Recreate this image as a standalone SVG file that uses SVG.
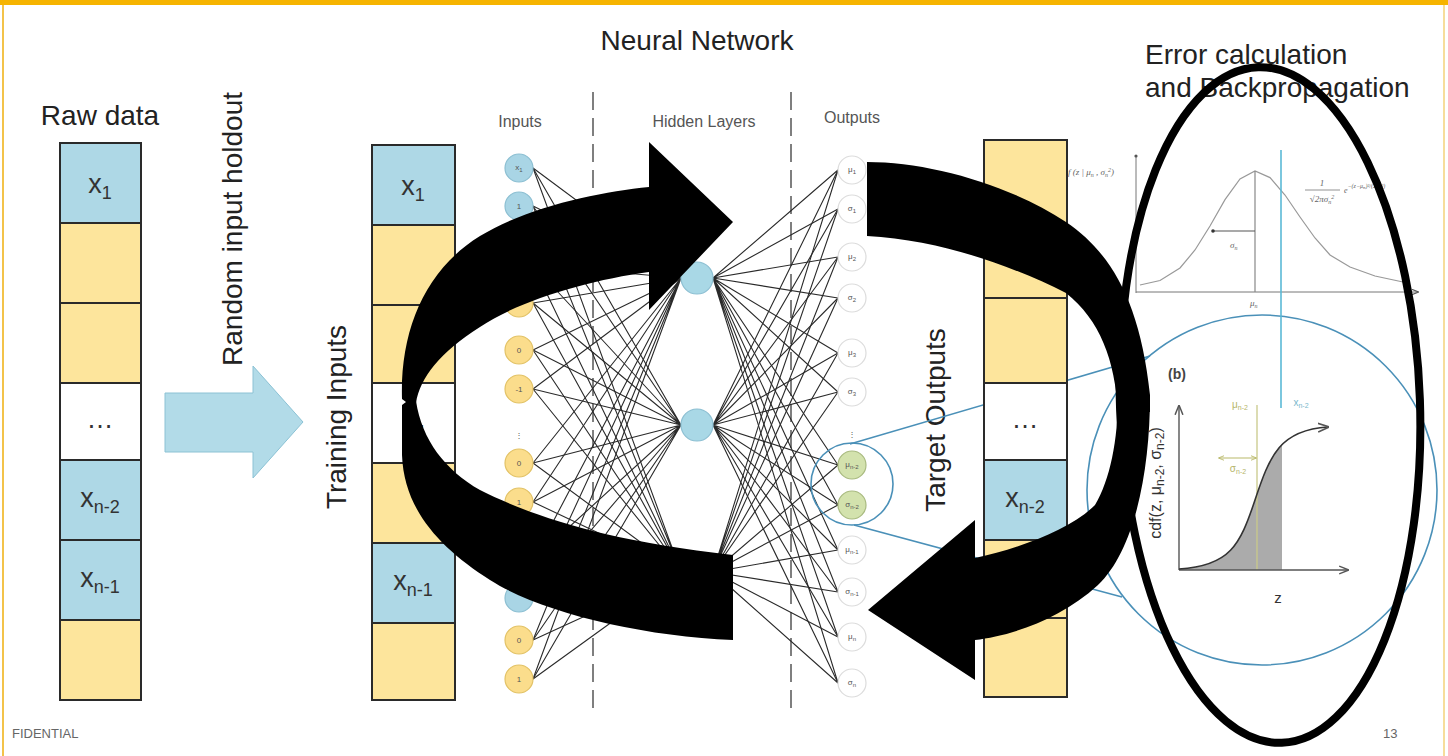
<svg xmlns="http://www.w3.org/2000/svg" width="1448" height="756" viewBox="0 0 1448 756">
<defs>
<style>
.cell{stroke:#2a2a2a;stroke-width:2}
.b{fill:#aed8e6}.y{fill:#fde59c}.w{fill:#fff}
.cl{font-family:"Liberation Sans",Arial,sans-serif;font-size:27px;fill:#333;text-anchor:middle}
.sub{font-size:18px}
.big{font-family:"Liberation Sans",Arial,sans-serif;font-size:28px;fill:#222}
.hdr{font-family:"Liberation Sans",Arial,sans-serif;font-size:16px;fill:#555;text-anchor:middle}
.nb{fill:#a9d5e5;stroke:#8cbfd2;stroke-width:1.2}
.ny{fill:#fbdd8c;stroke:#e2c266;stroke-width:1.2}
.no{fill:#fff;stroke:#dcdcdc;stroke-width:1.2}
.ng{fill:#d3e2ad;stroke:#a9ba80;stroke-width:1.2}
.nh{fill:#a9d8e6;stroke:#8cbfd2;stroke-width:1.2}
.nl{font-family:"Liberation Sans",Arial,sans-serif;font-size:8px;fill:#555;text-anchor:middle}
.ns{font-size:6px}
.conn{stroke:#2a2a2a;stroke-width:1.1;fill:none}
.dash{stroke:#555;stroke-width:1.5;stroke-dasharray:18 8}
.teal{stroke:#4a90b8;stroke-width:1.6;fill:none}
.ax{stroke:#777;stroke-width:1;fill:none}
.sm{font-family:"Liberation Serif",serif;font-style:italic;fill:#666}
.ol{stroke:#c9c98a;stroke-width:1.3;fill:none}
</style>
<marker id="ah" viewBox="0 0 10 10" refX="9" refY="5" markerWidth="7" markerHeight="7" orient="auto"><path d="M0,1 L10,5 L0,9" fill="none" stroke="#555" stroke-width="1.5"/></marker>
<marker id="ao" viewBox="0 0 10 10" refX="9" refY="5" markerWidth="5" markerHeight="5" orient="auto-start-reverse"><path d="M0,1 L10,5 L0,9" fill="none" stroke="#b9b96a" stroke-width="1.5"/></marker>
<clipPath id="shade"><rect x="1179" y="380" width="103" height="190"/></clipPath>
</defs>
<rect width="1448" height="756" fill="#fff"/>
<rect x="0" y="0" width="1448" height="5" fill="#f6b400"/>
<line x1="3" y1="5" x2="3" y2="756" stroke="#f3c34a" stroke-width="2"/>
<line x1="1444" y1="5" x2="1444" y2="756" stroke="#f3d27a" stroke-width="1.5"/>

<!-- titles -->
<text class="big" x="697" y="50" text-anchor="middle">Neural Network</text>
<text class="big" x="100" y="125" text-anchor="middle">Raw data</text>
<text class="big" x="1145" y="64">Error calculation</text>
<text class="big" x="1145" y="97">and Backpropagation</text>
<text class="big" font-size="32.5" transform="translate(242,229) rotate(-90)" text-anchor="middle">Random input holdout</text>
<text class="big" font-size="34" transform="translate(346,417) rotate(-90)" text-anchor="middle">Training Inputs</text>
<text class="big" font-size="33" transform="translate(945,420) rotate(-90)" text-anchor="middle">Target Outputs</text>
<text class="hdr" x="520" y="127">Inputs</text>
<text class="hdr" x="704" y="127">Hidden Layers</text>
<text class="hdr" x="852" y="123">Outputs</text>

<!-- raw data column -->
<g id="raw-data">
<rect class="cell b" x="60" y="143" width="81" height="80"/>
<rect class="cell y" x="60" y="223" width="81" height="80"/>
<rect class="cell y" x="60" y="303" width="81" height="80"/>
<rect class="cell w" x="60" y="383" width="81" height="77"/>
<rect class="cell b" x="60" y="460" width="81" height="80"/>
<rect class="cell b" x="60" y="540" width="81" height="80"/>
<rect class="cell y" x="60" y="620" width="81" height="80"/>
<text class="cl" x="100" y="193">x<tspan class="sub" dy="6">1</tspan></text>
<text class="cl" x="100" y="428">…</text>
<text class="cl" x="100" y="507">x<tspan class="sub" dy="6">n-2</tspan></text>
<text class="cl" x="100" y="587">x<tspan class="sub" dy="6">n-1</tspan></text>
</g>

<g id="holdout-arrow">
<path d="M165,393 L253,393 L253,366 L303,422 L253,478 L253,452 L165,452 Z" fill="#b2dbe8" stroke="#8cc2d4" stroke-width="1"/>
</g>

<!-- training inputs column -->
<g id="training-inputs">
<rect class="cell b" x="372" y="145" width="83" height="80"/>
<rect class="cell y" x="372" y="225" width="83" height="80"/>
<rect class="cell y" x="372" y="305" width="83" height="78"/>
<rect class="cell w" x="372" y="383" width="83" height="80"/>
<rect class="cell y" x="372" y="463" width="83" height="80"/>
<rect class="cell b" x="372" y="543" width="83" height="80"/>
<rect class="cell y" x="372" y="623" width="83" height="77"/>
<text class="cl" x="413" y="195">x<tspan class="sub" dy="6">1</tspan></text>
<text class="cl" x="413" y="428">…</text>
<text class="cl" x="413" y="590">x<tspan class="sub" dy="6">n-1</tspan></text>
</g>

<!-- dashed separators -->
<line class="dash" x1="593" y1="92" x2="593" y2="712"/>
<line class="dash" x1="791" y1="92" x2="791" y2="712"/>

<!-- connectors -->
<g id="connectors">
<path class="conn" d="M533,168L681,278M533,206L681,278M533,265L681,278M533,303L681,278M533,350L681,278M533,389L681,278M533,463L681,278M533,502L681,278M533,560L681,278M533,598L681,278M533,640L681,278M533,679L681,278"/>
<path class="conn" d="M533,168L681,425M533,206L681,425M533,265L681,425M533,303L681,425M533,350L681,425M533,389L681,425M533,463L681,425M533,502L681,425M533,560L681,425M533,598L681,425M533,640L681,425M533,679L681,425"/>
<path class="conn" d="M533,168L681,572M533,206L681,572M533,265L681,572M533,303L681,572M533,350L681,572M533,389L681,572M533,463L681,572M533,502L681,572M533,560L681,572M533,598L681,572M533,640L681,572M533,679L681,572"/>
<path class="conn" d="M713,278L838,170M713,278L838,209M713,278L838,257M713,278L838,298M713,278L838,353M713,278L838,392M713,278L838,465M713,278L838,505M713,278L838,550M713,278L838,592M713,278L838,637M713,278L838,683"/>
<path class="conn" d="M713,425L838,170M713,425L838,209M713,425L838,257M713,425L838,298M713,425L838,353M713,425L838,392M713,425L838,465M713,425L838,505M713,425L838,550M713,425L838,592M713,425L838,637M713,425L838,683"/>
<path class="conn" d="M713,572L838,170M713,572L838,209M713,572L838,257M713,572L838,298M713,572L838,353M713,572L838,392M713,572L838,465M713,572L838,505M713,572L838,550M713,572L838,592M713,572L838,637M713,572L838,683"/>
<path class="teal" d="M850,444 L1150,356"/>
<path class="teal" d="M854,525 L1122,597"/>
</g>

<!-- input nodes -->
<g id="input-nodes">
<circle class="nb" cx="519" cy="168" r="14"/><text class="nl" x="519" y="170">x<tspan class="ns" dy="2">1</tspan></text>
<circle class="nb" cx="519" cy="206" r="14"/><text class="nl" x="519" y="209">1</text>
<circle class="ny" cx="519" cy="265" r="14"/>
<circle class="ny" cx="519" cy="303" r="14"/>
<circle class="ny" cx="519" cy="350" r="14"/><text class="nl" x="519" y="353">0</text>
<circle class="ny" cx="519" cy="389" r="14"/><text class="nl" x="519" y="392">-1</text>
<text class="nl" x="519" y="438" font-size="14" font-family="DejaVu Sans">⋮</text>
<circle class="ny" cx="519" cy="463" r="14"/><text class="nl" x="519" y="466">0</text>
<circle class="ny" cx="519" cy="502" r="14"/><text class="nl" x="519" y="505">1</text>
<circle class="nb" cx="519" cy="560" r="14"/>
<circle class="nb" cx="519" cy="598" r="14"/>
<circle class="ny" cx="519" cy="640" r="14"/><text class="nl" x="519" y="643">0</text>
<circle class="ny" cx="519" cy="679" r="14"/><text class="nl" x="519" y="682">1</text>
</g>

<!-- hidden nodes -->
<g id="hidden-nodes">
<circle class="nh" cx="697" cy="278" r="16"/>
<circle class="nh" cx="697" cy="425" r="16"/>
<circle class="nh" cx="697" cy="572" r="16"/>
</g>

<!-- output nodes -->
<g id="output-nodes">
<circle class="no" cx="852" cy="170" r="14"/><text class="nl" x="852" y="172">μ<tspan class="ns" dy="2">1</tspan></text>
<circle class="no" cx="852" cy="209" r="14"/><text class="nl" x="852" y="211">σ<tspan class="ns" dy="2">1</tspan></text>
<circle class="no" cx="852" cy="257" r="14"/><text class="nl" x="852" y="259">μ<tspan class="ns" dy="2">2</tspan></text>
<circle class="no" cx="852" cy="298" r="14"/><text class="nl" x="852" y="300">σ<tspan class="ns" dy="2">2</tspan></text>
<circle class="no" cx="852" cy="353" r="14"/><text class="nl" x="852" y="355">μ<tspan class="ns" dy="2">3</tspan></text>
<circle class="no" cx="852" cy="392" r="14"/><text class="nl" x="852" y="394">σ<tspan class="ns" dy="2">3</tspan></text>
<text class="nl" x="852" y="437" font-size="14" font-family="DejaVu Sans">⋮</text>
<circle class="ng" cx="852" cy="465" r="14"/><text class="nl" x="852" y="467">μ<tspan class="ns" dy="2">n-2</tspan></text>
<circle class="ng" cx="852" cy="505" r="14"/><text class="nl" x="852" y="507">σ<tspan class="ns" dy="2">n-2</tspan></text>
<circle class="no" cx="852" cy="550" r="14"/><text class="nl" x="852" y="552">μ<tspan class="ns" dy="2">n-1</tspan></text>
<circle class="no" cx="852" cy="592" r="14"/><text class="nl" x="852" y="594">σ<tspan class="ns" dy="2">n-1</tspan></text>
<circle class="no" cx="852" cy="637" r="14"/><text class="nl" x="852" y="639">μ<tspan class="ns" dy="2">n</tspan></text>
<circle class="no" cx="852" cy="683" r="14"/><text class="nl" x="852" y="685">σ<tspan class="ns" dy="2">n</tspan></text>
<circle class="teal" cx="852" cy="484" r="41"/>
</g>

<!-- big zoom circle -->
<circle class="teal" cx="1262" cy="490" r="175"/>

<!-- target outputs column -->
<g id="target-outputs">
<rect class="cell y" x="984" y="140" width="83" height="158"/>
<rect class="cell y" x="984" y="298" width="83" height="85"/>
<rect class="cell w" x="984" y="383" width="83" height="77"/>
<rect class="cell b" x="984" y="460" width="83" height="80"/>
<rect class="cell y" x="984" y="540" width="83" height="78"/>
<rect class="cell y" x="984" y="618" width="83" height="79"/>
<text class="cl" x="1025" y="428">…</text>
<text class="cl" x="1025" y="507">x<tspan class="sub" dy="6">n-2</tspan></text>
</g>

<!-- gaussian plot -->
<g id="pdf-plot">
<line class="ax" x1="1136" y1="293" x2="1136" y2="157"/>
<circle cx="1136" cy="156" r="1.6" fill="#555"/>
<line class="ax" x1="1136" y1="292" x2="1418" y2="292" marker-end="url(#ah)"/>
<path d="M1140,285 L1160,280.5 L1180,268 L1195,250 L1210,226 L1225,199.7 L1240,178.9 L1255,171 L1270,177.6 L1285,195 L1300,217 L1315,238 L1330,255 L1350,267 L1375,276 L1403,282" fill="none" stroke="#999" stroke-width="1.2"/>
<line x1="1255" y1="171" x2="1255" y2="292" stroke="#888" stroke-width="1.2"/>
<line x1="1213" y1="231" x2="1255" y2="231" stroke="#555" stroke-width="1.2"/>
<circle cx="1213" cy="231" r="1.8" fill="#333"/>
<text class="sm" x="1230" y="248" font-size="9">σ<tspan font-size="6" dy="2">n</tspan></text>
<text class="sm" x="1250" y="306" font-size="9">μ<tspan font-size="6" dy="2">n</tspan></text>
<text class="sm" x="1068" y="175" font-size="9">f (z | μ<tspan font-size="6" dy="2">n</tspan><tspan dy="-2"> , σ</tspan><tspan font-size="6" dy="2">n</tspan><tspan font-size="6" dy="-5">2</tspan><tspan dy="3">)</tspan></text>
<text class="sm" x="1322" y="186" font-size="9" text-anchor="middle">1</text>
<line x1="1305" y1="190" x2="1340" y2="190" stroke="#777" stroke-width="0.8"/>
<text class="sm" x="1322" y="202" font-size="9" text-anchor="middle">√2πσ<tspan font-size="6" dy="2">n</tspan><tspan font-size="6" dy="-5">2</tspan></text>
<text class="sm" x="1344" y="193" font-size="8">e<tspan font-size="6" dy="-5">−(z−μ</tspan><tspan font-size="5" dy="1">n</tspan><tspan font-size="6" dy="-1">)²/(2σ</tspan><tspan font-size="5" dy="1">n</tspan><tspan font-size="6" dy="-1">²)</tspan></text>
</g>
<line x1="1281" y1="150" x2="1281" y2="408" stroke="#5bb9d6" stroke-width="1.6"/>

<!-- cdf plot -->
<g id="cdf-plot">
<path clip-path="url(#shade)" d="M1179,569 C1230,566 1240,545 1255,500 S1280,430 1325,427 L1325,570 L1179,570 Z" fill="#ababab"/>
<line class="ol" x1="1257" y1="405" x2="1257" y2="570"/>
<line x1="1179" y1="570" x2="1179" y2="406" stroke="#555" stroke-width="1.4" marker-end="url(#ah)"/>
<line x1="1179" y1="570" x2="1348" y2="570" stroke="#555" stroke-width="1.4" marker-end="url(#ah)"/>
<path d="M1179,569 C1230,566 1240,545 1255,500 S1280,430 1328,427" fill="none" stroke="#333" stroke-width="1.6" marker-end="url(#ah)"/>
<line x1="1219" y1="458" x2="1256" y2="458" stroke="#b9b96a" stroke-width="1.2" marker-start="url(#ao)" marker-end="url(#ao)"/>
<text x="1240" y="408" font-family="Liberation Sans,sans-serif" font-size="10" fill="#b5b56a" text-anchor="middle">μ<tspan font-size="7" dy="2">n-2</tspan></text>
<text x="1238" y="472" font-family="Liberation Sans,sans-serif" font-size="10" fill="#b5b56a" text-anchor="middle">σ<tspan font-size="7" dy="2">n-2</tspan></text>
<text x="1301" y="406" font-family="Liberation Sans,sans-serif" font-size="10" fill="#7ab8cc" text-anchor="middle">x<tspan font-size="7" dy="2">n-2</tspan></text>
<text x="1168" y="379" font-family="Liberation Sans,sans-serif" font-size="14" font-weight="bold" fill="#444">(b)</text>
<text x="1278" y="603" font-family="Liberation Sans,sans-serif" font-size="15" fill="#333" text-anchor="middle">z</text>
<text transform="translate(1161,483) rotate(-90)" font-family="Liberation Sans,sans-serif" font-size="16" fill="#333" text-anchor="middle">cdf(z, μ<tspan font-size="12" dy="3">n-2</tspan><tspan dy="-3">, σ</tspan><tspan font-size="12" dy="3">n-2</tspan><tspan dy="-3">)</tspan></text>
</g>

<!-- black loop arrows -->
<g id="loop-arrows" fill="#000">
<path d="M402,399 C400,330 425,270 480,236 C530,206 600,192 649,187 L649,142 L733,222 L649,310 L649,272 C590,280 520,300 480,327 C440,352 420,378 416,403 L406,402 Z"/>
<path d="M733,555 L733,640 C640,636 540,612 490,580 C440,548 404,510 402,455 L402,405 L406,402 L416,401 C422,440 445,470 480,490 C530,515 600,540 733,555 Z"/>
<path d="M867,162 C930,162 1010,185 1066,222 C1110,252 1140,300 1150,395 L1150,412 L1118,412 C1115,360 1100,320 1066,293 C1010,265 940,240 867,236 Z"/>
<path d="M1150,396 C1150,470 1135,550 1098,585 C1060,620 1010,636 975,640 L975,680 L868,610 L975,520 L975,558 C1020,548 1070,530 1095,505 C1110,480 1118,440 1118,396 Z"/>
</g>

<!-- error calculation ellipse -->
<ellipse cx="1270" cy="405" rx="150" ry="338" fill="none" stroke="#000" stroke-width="8" transform="rotate(-2 1270 405)"/>

<text x="12" y="738" font-family="Liberation Sans,sans-serif" font-size="13" fill="#666">FIDENTIAL</text>
<text x="1383" y="738" font-family="Liberation Sans,sans-serif" font-size="13" fill="#666">13</text>
</svg>
